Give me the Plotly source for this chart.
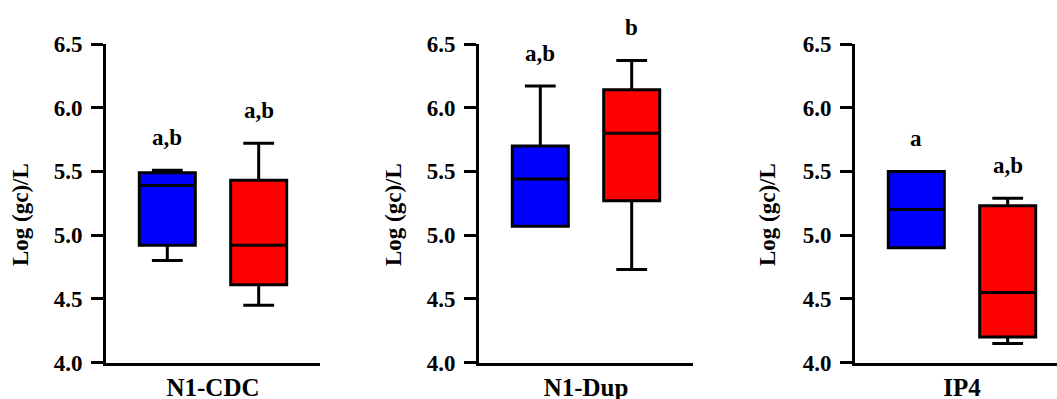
import plotly.graph_objects as go

# ---- data ----
categories = ["N1-CDC", "N1-Dup", "IP4"]
blue_min = [4.80, 5.07, 4.90]
blue_q1 = [4.92, 5.07, 4.90]
blue_med = [5.39, 5.44, 5.20]
blue_q3 = [5.49, 5.70, 5.50]
blue_max = [5.51, 6.17, 5.50]
red_min = [4.45, 4.73, 4.15]
red_q1 = [4.61, 5.27, 4.20]
red_med = [4.92, 5.80, 4.55]
red_q3 = [5.43, 6.14, 5.23]
red_max = [5.72, 6.37, 5.29]
blue_letters = ["a,b", "a,b", "a"]
red_letters = ["a,b", "b", "a,b"]
y_ticks = [4.0, 4.5, 5.0, 5.5, 6.0, 6.5]
y_title = "Log (gc)/L"

FONT = "Liberation Serif, Times New Roman, serif"
W, H = 1057, 399
BOXGAP = 0.146
BOXGROUPGAP = 0.387
offset = (1 - BOXGAP) / 4

# panel geometry (pixels)
panel_left = [106, 479, 855]
panel_w = 214
y_top_px, y_bot_px = 44, 362.5
title_x_px = [20, 393, 767]

fig = go.Figure()
annotations = []
for i, cat in enumerate(categories):
    ax = "" if i == 0 else str(i + 1)
    for color, q1, med, q3, lo, hi in [
        ("#0000FF", blue_q1, blue_med, blue_q3, blue_min, blue_max),
        ("#FF0000", red_q1, red_med, red_q3, red_min, red_max),
    ]:
        fig.add_trace(go.Box(
            x=[cat], q1=[q1[i]], median=[med[i]], q3=[q3[i]],
            lowerfence=[lo[i]], upperfence=[hi[i]],
            fillcolor=color, line=dict(color="black", width=3),
            whiskerwidth=0.55, offsetgroup=color, boxpoints=False,
            hoverinfo="skip",
            xaxis="x" + ax, yaxis="y" + ax,
        ))
    for sgn, letters, hi in [(-1, blue_letters, blue_max), (1, red_letters, red_max)]:
        annotations.append(dict(
            x=sgn * offset, y=hi[i], xref="x" + ax, yref="y" + ax,
            text="<b>%s</b>" % letters[i], showarrow=False,
            yanchor="middle", yshift=33,
            font=dict(family=FONT, size=23, color="black"),
        ))
    annotations.append(dict(
        x=title_x_px[i] / W, y=1 - 215 / H, xref="paper", yref="paper",
        text="<b>%s</b>" % y_title, textangle=-90, showarrow=False,
        xanchor="center", yanchor="middle",
        font=dict(family=FONT, size=23, color="black"),
    ))

    x0 = panel_left[i] / W
    x1 = min((panel_left[i] + panel_w) / W, 1.0)
    rng_hi = -0.5 + (x1 - x0) * W / panel_w
    fig.layout["xaxis" + ax] = dict(
        domain=[x0, x1], range=[-0.5, rng_hi], anchor="y" + ax,
        showline=True, linecolor="black", linewidth=3,
        showgrid=False, zeroline=False, ticks="",
        tickfont=dict(family=FONT, size=25, color="black"),
        ticklabelstandoff=0, tickprefix="<b>", ticksuffix="</b>",
        automargin=False, fixedrange=True,
    )
    fig.layout["yaxis" + ax] = dict(
        domain=[1 - y_bot_px / H, 1 - y_top_px / H], range=[4.0, 6.5],
        anchor="x" + ax,
        showline=True, linecolor="black", linewidth=3,
        showgrid=False, zeroline=False,
        ticks="outside", ticklen=12, tickwidth=3, tickcolor="black",
        tickvals=y_ticks, ticktext=["<b>%.1f</b>" % v for v in y_ticks],
        tickfont=dict(family=FONT, size=23, color="black"),
        ticklabelstandoff=4,
        automargin=False, fixedrange=True,
    )

fig.update_layout(
    width=W, height=H, margin=dict(l=0, r=0, t=0, b=0, autoexpand=False),
    boxmode="group", boxgap=BOXGAP, boxgroupgap=BOXGROUPGAP,
    showlegend=False, plot_bgcolor="white", paper_bgcolor="white",
    annotations=annotations,
)
fig.write_html(
    "out.html",
    config={"displayModeBar": False},
    post_script="document.body.style.margin='0';document.body.style.overflow='hidden';",
)
